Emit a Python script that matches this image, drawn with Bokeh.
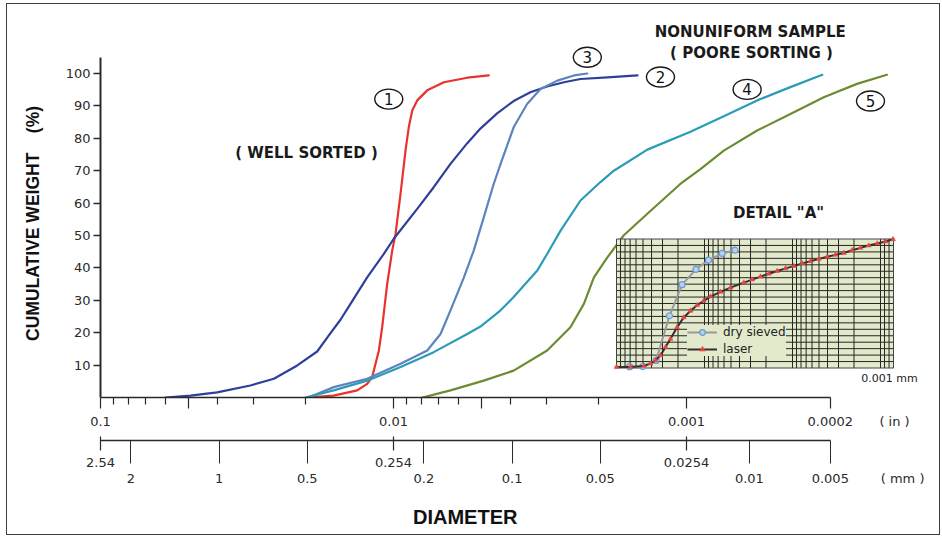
from bokeh.plotting import figure
from bokeh.models import (Range1d, LogScale, LogAxis, FixedTicker, Label,
                          Legend, LegendItem, InlineStyleSheet)
from bokeh.embed import file_html
from bokeh.resources import INLINE
from bokeh.core.properties import value

# ---------------- data ----------------
# grain diameter (inches) and cumulative weight (%)
s1_in = [0.0197, 0.01602, 0.0133, 0.0123, 0.01182, 0.01122, 0.01093, 0.01051, 0.0101,
         0.00984, 0.00946, 0.0091, 0.00887, 0.00863, 0.0083, 0.00767, 0.00673, 0.0056, 0.00473]
s1_pct = [0, 0.6, 2.2, 4.2, 6.3, 14.5, 21.7, 35, 45.4, 50.5, 62.9, 76.2, 83.4, 88.6, 91.7,
          94.8, 97.3, 98.7, 99.4]

s2_in = [0.06, 0.0493, 0.04, 0.0308, 0.0256, 0.0213, 0.01822, 0.01667, 0.01517, 0.01402,
         0.0123, 0.01079, 0.00998, 0.0083, 0.00729, 0.00639, 0.0056, 0.00505, 0.00443,
         0.00389, 0.00341, 0.00299, 0.00262, 0.0023, 0.00186, 0.00147]
s2_pct = [0, 0.6, 1.6, 3.7, 5.8, 9.9, 14.2, 19.0, 24.0, 28.9, 37.1, 44.3, 49.0, 58.2, 64.9,
          72.1, 78.5, 83.0, 87.7, 91.5, 94.2, 96.0, 97.3, 98.3, 98.8, 99.4]

s3_in = [0.0195, 0.016, 0.0123, 0.00946, 0.00767, 0.00691, 0.00639, 0.00575, 0.00532,
         0.00492, 0.00455, 0.00431, 0.00389, 0.0035, 0.00315, 0.00276, 0.00242, 0.00218]
s3_pct = [0, 3.2, 5.8, 10.4, 14.5, 19.6, 26.9, 37.1, 45.4, 55.6, 65.9, 72.1, 83.4, 90.6,
          95.2, 97.8, 99.4, 100]

s4_in = [0.01997, 0.016, 0.0123, 0.00946, 0.00729, 0.0056, 0.00505, 0.00431, 0.00389,
         0.00323, 0.00299, 0.00269, 0.0023, 0.001966, 0.00177, 0.00136, 0.000969, 0.000746,
         0.000574, 0.000442, 0.000344]
s4_pct = [0, 2.2, 5.2, 9.4, 14.0, 19.6, 21.9, 26.9, 31.0, 39.2, 44.3, 51.5, 60.8, 66.5,
          70.0, 76.5, 82.0, 86.8, 91.7, 95.8, 99.6]

s5_in = [0.00796, 0.00639, 0.00492, 0.00389, 0.00299, 0.00249, 0.00224, 0.00207, 0.00186,
         0.00164, 0.00136, 0.00105, 0.000896, 0.000746, 0.000574, 0.000442, 0.00034,
         0.000262, 0.000207]
s5_pct = [0, 2.2, 5.2, 8.3, 14.5, 21.7, 28.9, 37.1, 43.3, 50.0, 56.7, 65.9, 70.5, 76.2,
          82.4, 87.5, 92.7, 96.8, 99.6]

series_colors = ["#e8322b", "#2f3f9c", "#5d84be", "#2b9cb8", "#6b8c30"]
series_tags = ["1", "2", "3", "4", "5"]

# detail "A" (diameter in mm, cumulative %)
sieve_mm = [0.71, 0.5, 0.355, 0.25, 0.18, 0.125, 0.09, 0.063, 0.045]
sieve_pct = [1.0, 1.2, 5.9, 40.5, 64.6, 76.5, 83.6, 88.8, 91.3]
laser_mm = [1.0, 0.693, 0.489, 0.411, 0.36, 0.316, 0.277, 0.243, 0.205, 0.172, 0.144,
            0.121, 0.102, 0.0855, 0.0658, 0.0507, 0.0357, 0.0287, 0.0231, 0.0186, 0.0149,
            0.012, 0.00966, 0.00776, 0.00624, 0.00502, 0.00404, 0.00325, 0.00261, 0.0021,
            0.00169, 0.00136, 0.00109, 0.000877, 0.00072]
laser_pct = [0.8, 0.8, 1.5, 3.4, 5.9, 9.8, 16.2, 22.6, 31.5, 39.2, 44.4, 48.8, 52.1, 55.4,
             59.0, 62.3, 66.2, 68.5, 70.8, 73.1, 75.2, 77.2, 79.0, 81.1, 82.8, 84.6, 86.2,
             87.7, 89.2, 91.3, 93.1, 94.9, 96.5, 98.0, 99.8]

# ticks / tick labels
y_ticks = [10, 20, 30, 40, 50, 60, 70, 80, 90, 100]
in_tick_pos = [0.1, 0.05, 0.01, 0.005, 0.001, 0.000323]   # last one sits at the axis end, as drawn
in_minor = [0.09, 0.08, 0.07, 0.06, 0.04, 0.03, 0.02,
            0.009, 0.008, 0.007, 0.006, 0.004, 0.003, 0.002]
in_labels = ["0.1", "0.01", "0.001", "0.0002", "( in )"]
in_label_pos = [0.1, 0.01, 0.001, 0.000323, 0.000195]
mm_top_labels = ["2.54", "0.254", "0.0254"]
mm_top_pos = [0.1, 0.01, 0.001]
mm_low_labels = ["2", "1", "0.5", "0.2", "0.1", "0.05", "0.01", "0.005"]
mm_low_pos = [2 / 25.4, 1 / 25.4, 0.5 / 25.4, 0.2 / 25.4, 0.1 / 25.4, 0.05 / 25.4,
              0.00061, 0.000323]   # the two finest labels are placed where the reference draws them
mm_unit_label, mm_unit_pos = "( mm )", 0.000183
inset_xgrid_mant = [1, 2, 3, 4, 5, 6, 7, 8, 9]
inset_xgrid_dec = [1.0, 0.1, 0.01, 0.001, 0.0001]
inset_ygrid = [5, 10, 15, 20, 25, 30, 35, 40, 45, 50, 55, 60, 65, 70, 75, 80, 85, 90, 95]

# ---------------- layout geometry ----------------
W, H = 942, 537
FL, FR, FT, FB = 100, 935, 10, 397       # frame box (px)
PX_DEC = 293.0                            # px per decade, main axis
Y_PX = 3.24                               # px per percent, main axis
AX_END_PX = 830
x_end = 0.1 * 10 ** (-(FR - FL) / PX_DEC)
ax_end = 0.1 * 10 ** (-(AX_END_PX - FL) / PX_DEC)
y_end = (FB - FT) / Y_PX

IL, IR, IT, IB = 616, 893, 238.5, 367.5   # inset box (px)
I_DEC = 88.0
ix_start = 10 ** ((IL - FL) / I_DEC)
ix_end = 10 ** (-(FR - IL) / I_DEC)
ix_right = 10 ** (-(IR - IL) / I_DEC)
iy_k = (IB - IT) / 100.0
iy_start = -(FB - IB) / iy_k
iy_end = (IB - FT) / iy_k

INK = "#2a2a2a"
TICK_FONT = "DejaVu Sans"
NB = "\u00a0"

frame_css = InlineStyleSheet(css="""
:host { position: relative; }
:host::after { content: ""; position: absolute; left: 6px; top: 3px; right: 2px; bottom: 2px;
  border: 1.5px solid #3c3c3c; pointer-events: none; z-index: 100; }
""")

p = figure(width=W, height=H, x_axis_type="log",
           x_range=Range1d(0.1, x_end), y_range=Range1d(0, y_end),
           output_backend="svg", toolbar_location=None,
           min_border_left=FL, min_border_right=W - FR,
           min_border_top=FT, min_border_bottom=H - FB,
           stylesheets=[frame_css])
p.outline_line_color = None
p.xgrid.visible = False
p.ygrid.visible = False
p.background_fill_color = "white"
p.border_fill_color = "white"

# ---- y axis ----
ya = p.yaxis[0]
ya.ticker = FixedTicker(ticks=y_ticks)
ya.bounds = (0, 105)
ya.axis_line_width = 2
ya.axis_line_color = INK
ya.major_tick_out = 7
ya.major_tick_in = 0
ya.major_tick_line_width = 1.5
ya.major_tick_line_color = INK
ya.minor_tick_out = 0
ya.minor_tick_in = 0
ya.major_label_text_font = TICK_FONT
ya.major_label_text_font_size = "13px"
ya.major_label_text_color = INK
ya.major_label_standoff = 3
ya.axis_label = "CUMULATIVE WEIGHT" + NB * 4 + "(%)" + NB * 8
ya.axis_label_text_font = "Liberation Sans"
ya.axis_label_text_font_style = "bold"
ya.axis_label_text_font_size = "17.5px"
ya.axis_label_text_color = "#111111"
ya.axis_label_standoff = 20


def plain_axis(**kw):
    base = dict(axis_line_color=None, major_tick_in=0, major_tick_out=0,
                minor_tick_in=0, minor_tick_out=0,
                major_label_text_font=TICK_FONT, major_label_text_font_size="13px",
                major_label_text_color=INK)
    base.update(kw)
    return LogAxis(**base)


# ---- A: inch axis line and ticks ----
xa = p.xaxis[0]
xa.ticker = FixedTicker(ticks=in_tick_pos, minor_ticks=in_minor)
xa.bounds = (ax_end * 0.998, 0.1)
xa.axis_line_width = 1.5
xa.axis_line_color = INK
xa.major_tick_out = 11
xa.major_tick_in = 0
xa.minor_tick_out = 7
xa.minor_tick_in = 0
xa.major_tick_line_color = INK
xa.minor_tick_line_color = INK
xa.major_tick_line_width = 1.2
xa.minor_tick_line_width = 1.2
xa.major_label_text_font_size = "0px"
xa.major_label_text_color = None
xa.major_label_standoff = 0

# ---- B: inch labels ----
xb = plain_axis(ticker=FixedTicker(ticks=in_label_pos),
                major_label_overrides=dict(zip(in_label_pos, in_labels)),
                major_label_standoff=5,
                axis_label=" ", axis_label_text_font_size="5px", axis_label_standoff=0)
p.add_layout(xb, "below")

# ---- C: mm axis line and short ticks ----
xc = LogAxis(ticker=FixedTicker(ticks=mm_top_pos), bounds=(ax_end * 0.998, 0.1),
             axis_line_width=1.5, axis_line_color=INK,
             major_tick_in=4, major_tick_out=10, minor_tick_in=0, minor_tick_out=0,
             major_tick_line_color=INK, major_tick_line_width=1.2,
             major_label_text_font_size="0px", major_label_text_color=None,
             major_label_standoff=0)
p.add_layout(xc, "below")

# ---- D: upper mm labels (+ upper part of long ticks) ----
xd = plain_axis(ticker=FixedTicker(ticks=mm_top_pos, minor_ticks=mm_low_pos),
                major_label_overrides=dict(zip(mm_top_pos, mm_top_labels)),
                minor_tick_in=10, minor_tick_line_color=INK, minor_tick_line_width=1.0,
                major_label_standoff=7)
p.add_layout(xd, "below")

# ---- E: lower mm labels (+ lower part of long ticks) and title ----
e_pos = mm_low_pos + [mm_unit_pos]
xe = plain_axis(ticker=FixedTicker(ticks=e_pos, minor_ticks=mm_low_pos),
                major_label_overrides=dict(zip(e_pos, mm_low_labels + [mm_unit_label])),
                minor_tick_in=22, minor_tick_out=-6, minor_tick_line_color=INK,
                minor_tick_line_width=1.0, major_label_standoff=1,
                axis_label="DIAMETER" + NB * 19, axis_label_text_font="Liberation Sans",
                axis_label_text_font_style="bold", axis_label_text_font_size="20px",
                axis_label_text_color="#111111", axis_label_standoff=17)
p.add_layout(xe, "below")

# ---- main curves ----
all_in = [s1_in, s2_in, s3_in, s4_in, s5_in]
all_pct = [s1_pct, s2_pct, s3_pct, s4_pct, s5_pct]
for xs, ys, c in zip(all_in, all_pct, series_colors):
    p.line(xs, ys, line_color=c, line_width=2.2, line_join="round", line_cap="round")

# ---- circled series numbers ----
tag_x = [0.01038, 0.001227, 0.00218, 0.000621, 0.0002355]
tag_y = [92.1, 98.9, 105.0, 95.1, 91.5]
p.ellipse(x=tag_x, y=tag_y, width=28, height=20, width_units="screen",
          height_units="screen", fill_color=None, line_color="#1a1a1a", line_width=1.4)
for tx, ty, t in zip(tag_x, tag_y, series_tags):
    p.add_layout(Label(x=tx, y=ty, text=t, text_align="center", text_baseline="middle",
                       text_font="DejaVu Sans", text_font_size="15px", text_color="#111111"))

# ---- annotation texts ----
def note(x, y, t, size="15px", bold=True, **kw):
    p.add_layout(Label(x=x, y=y, text=t, text_align="center", text_baseline="middle",
                       text_font="DejaVu Sans", text_font_size=size,
                       text_font_style="bold" if bold else "normal",
                       text_color="#1a1a1a", **kw))

note(0.01981, 75.6, "( WELL SORTED )")
note(0.000606, 112.7, "NONUNIFORM SAMPLE")
note(0.000600, 106.3, "( POORE SORTING )")
note(0.000485, 56.8, "DETAIL \"A\"")

# ---- detail "A" inset, drawn through its own ranges ----
p.extra_x_ranges = {"ix": Range1d(ix_start, ix_end)}
p.extra_x_scales = {"ix": LogScale()}
p.extra_y_ranges = {"iy": Range1d(iy_start, iy_end)}
R = dict(x_range_name="ix", y_range_name="iy")

p.quad(left=[1.0], right=[ix_right], bottom=[0], top=[100],
       fill_color="#e2eacb", line_color=None, **R)
gx = [m * d for d in inset_xgrid_dec for m in inset_xgrid_mant]
gx = [g for g in gx if ix_right < g < 1.0]
p.segment(x0=gx, y0=[0] * len(gx), x1=gx, y1=[100] * len(gx),
          line_color="#262626", line_width=1, **R)
p.segment(x0=[1.0] * len(inset_ygrid), y0=inset_ygrid,
          x1=[ix_right] * len(inset_ygrid), y1=inset_ygrid,
          line_color="#262626", line_width=1, **R)
p.quad(left=[1.0], right=[ix_right], bottom=[0], top=[100],
       fill_color=None, line_color="#444444", line_width=1, **R)

dry_l = p.line(sieve_mm, sieve_pct, line_color="#9a9a9a", line_width=2, **R)
dry_m = p.scatter(sieve_mm, sieve_pct, marker="circle", size=6, fill_color="#b8d0ea",
                  line_color="#6b9bd1", line_width=1.2, **R)
las_l = p.line(laser_mm, laser_pct, line_color="#3a2c2c", line_width=2, **R)
las_m = p.scatter(laser_mm, laser_pct, marker="triangle", size=5, fill_color="#e5473f",
                  line_color="#e5473f", line_width=0.5, **R)

leg = Legend(items=[LegendItem(label="dry sieved", renderers=[dry_l, dry_m]),
                    LegendItem(label="laser", renderers=[las_l, las_m])],
             location=(587, 41), background_fill_color="#e2eacb", background_fill_alpha=1,
             border_line_color=None, label_text_font="DejaVu Sans",
             label_text_font_size="12px", label_text_color="#222222",
             glyph_width=30, glyph_height=14, label_height=14, spacing=3, padding=4,
             margin=0, label_standoff=6)
p.add_layout(leg)

p.add_layout(Label(x=0.001, y=-8, x_offset=9, text="0.001 mm", text_align="center",
                   text_baseline="middle", text_font="DejaVu Sans", text_font_size="11px",
                   text_color="#222222", **R))

open("out.html", "w").write(file_html(p, INLINE))
